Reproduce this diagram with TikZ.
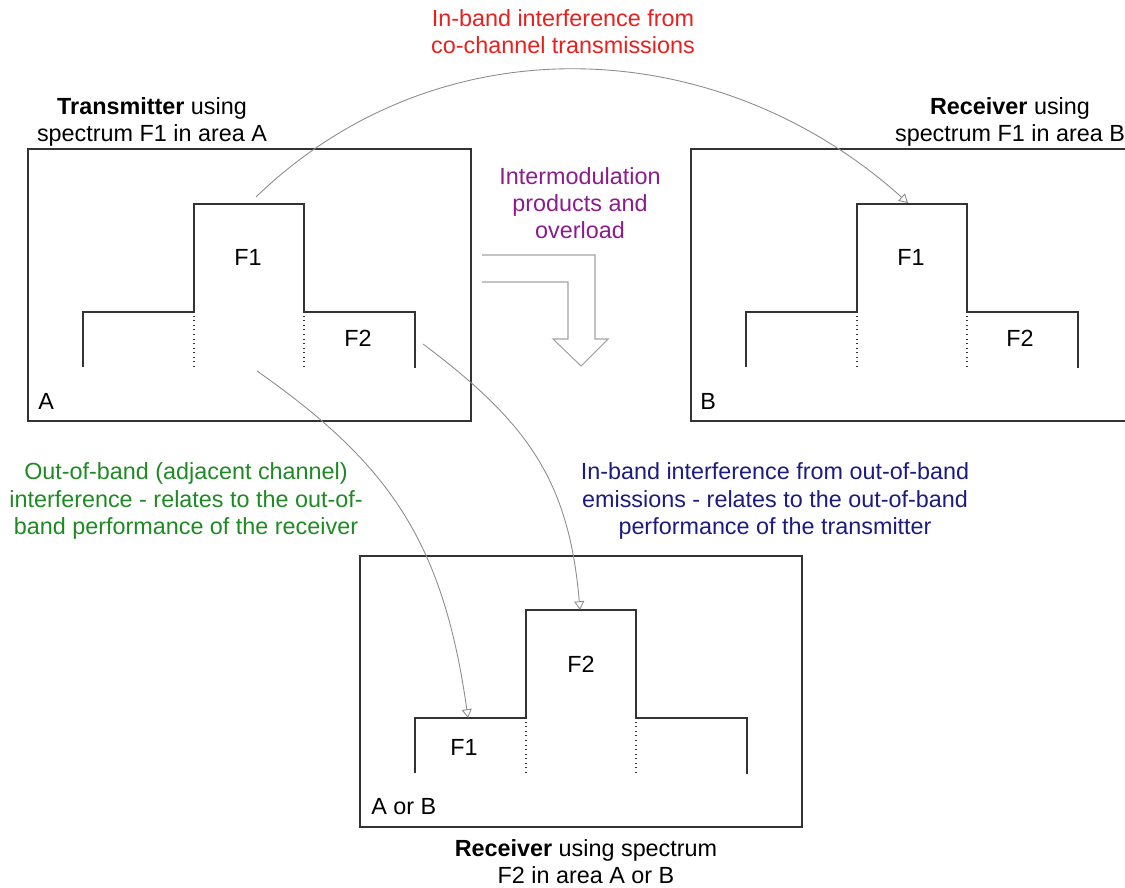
\documentclass[tikz,border=0pt]{standalone}
\usepackage{fontspec}
\setmainfont{Liberation Sans}
\usepackage{xcolor}
\usetikzlibrary{arrows.meta,positioning}
\definecolor{framedark}{HTML}{333333}
\definecolor{linegray}{HTML}{8C8C8C}
\definecolor{txtred}{HTML}{E8201E}
\definecolor{txtpurple}{HTML}{8A1C8C}
\definecolor{txtgreen}{HTML}{1F8A24}
\definecolor{txtblue}{HTML}{1C1C80}

\begin{document}
\begin{tikzpicture}[
    x=0.02cm, y=-0.02cm,
    font=\fontsize{13.3}{15.4}\selectfont,
    areabox/.style={draw=framedark, line width=1.1pt},
    band/.style={draw=framedark, line width=1.2pt},
    cutoff/.style={draw=framedark, dotted, line width=0.6pt},
    note/.style={align=center, inner sep=0pt},
    corner/.style={anchor=west, inner sep=0pt},
    link/.style={draw=linegray, line width=0.5pt, -{Triangle[open, length=5pt, width=5.7pt]}},
    hollow/.style={draw=linegray!80, line width=0.6pt}
]
\useasboundingbox (0,0) rectangle (1125,888);

% Area boxes
\draw[areabox] (28,149) rectangle (471,421);
\draw[areabox] (1130,149) -- (691,149) -- (691,421) -- (1130,421);
\draw[areabox] (360,556) rectangle (802,827);

% Spectrum masks
\foreach \ox/\oy in {83/367, 746/367, 415/773}{
  \draw[band] (\ox,\oy) -- ++(0,-55) -- ++(111,0) -- ++(0,-108) -- ++(110,0)
    -- ++(0,108) -- ++(111,0) -- ++(0,56);
  \draw[cutoff] (\ox+111,\oy) -- ++(0,-55);
  \draw[cutoff] (\ox+221,\oy) -- ++(0,-55);
}

% Band labels
\node (txF1) at (248,257) {F1};
\node (txF2) at (358,338) {F2};
\node (rxBF1) at (911,257) {F1};
\node (rxBF2) at (1020,338) {F2};
\node (rxCF2) at (581,664) {F2};
\node (rxCF1) at (464,747) {F1};

% Area labels
\node[corner] (areaA) at (38,401) {A};
\node[corner] (areaB) at (700,401) {B};
\node[corner] (areaAB) at (371,807) {A or B};

% Titles
\node[note] (txtitle) at (152,122) {\textbf{Transmitter} using\\spectrum F1 in area A};
\node[note] (rxBtitle) at (1010,122) {\textbf{Receiver} using\\spectrum F1 in area B};
\node[note] (rxCtitle) at (586,862) {\textbf{Receiver} using spectrum\\F2 in area A or B};

% Interference notes
\node[note, text=txtred] (cochan) at (563,32) {In-band interference from\\co-channel transmissions};
\node[note, text=txtpurple] (intermod) at (580,203) {Intermodulation\\products and\\overload};
\node[note, text=txtgreen] (adjchan) at (186,501) {Out-of-band (adjacent channel)\\interference - relates to the out-of-\\band performance of the receiver};
\node[note, text=txtblue] (oobemit) at (775,501) {In-band interference from out-of-band\\emissions - relates to the out-of-band\\performance of the transmitter};

% Arrow ends
\coordinate (txout) at (256,197);
\coordinate (rxBin) at (908,203);
\coordinate (txadj) at (257,371);
\coordinate (rxCadj) at (468,718);
\coordinate (txoob) at (423,344);
\coordinate (rxCin) at (580,610);

% Arrows
\draw[link] (txout) .. controls (439,20) and (718,32) .. (rxBin);
\draw[link] (txadj) .. controls (388,463) and (443,540) .. (rxCadj);
\draw[link] (txoob) .. controls (527,422) and (569,480) .. (rxCin);

% Bent hollow arrow
\draw[hollow] (482,255) -- (595,255) -- (595,339) -- (608,339) -- (581,366)
  -- (553,339) -- (568,339) -- (568,282) -- (482,282);

\end{tikzpicture}
\end{document}
